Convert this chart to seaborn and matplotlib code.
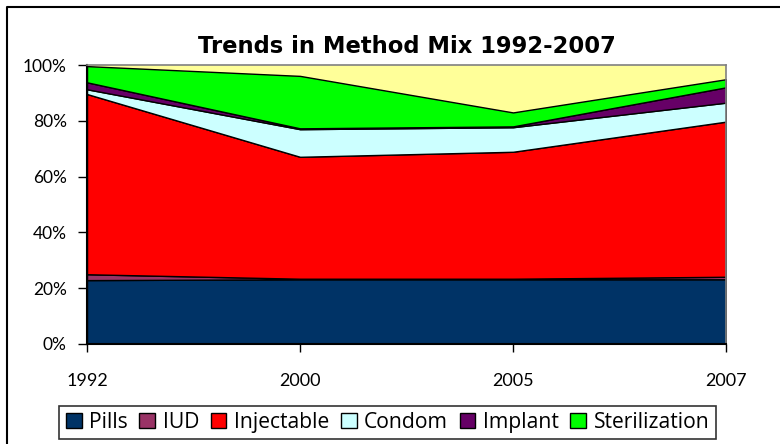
import numpy as np
import pandas as pd
import matplotlib
matplotlib.use("Agg")
import matplotlib.pyplot as plt
import seaborn as sns
from matplotlib.lines import Line2D
from matplotlib.patches import Patch

years = ["1992", "2000", "2005", "2007"]
methods = ["Pills", "IUD", "Injectable", "Condom", "Implant", "Sterilization"]
pills = [22.9, 23.2, 23.2, 23.2]
iud = [2.1, 0.2, 0.2, 0.9]
injectable = [64.6, 43.7, 45.5, 55.6]
condom = [1.7, 9.9, 8.8, 6.8]
implant = [2.5, 0.3, 0.3, 5.5]
sterilization = [5.8, 18.8, 5.0, 2.9]
yticks = [0, 20, 40, 60, 80, 100]
colors = ["#003366", "#993366", "#FF0000", "#CCFFFF", "#660066", "#00FF00"]

df = pd.DataFrame({"Year": years, "Pills": pills, "IUD": iud, "Injectable": injectable,
                   "Condom": condom, "Implant": implant, "Sterilization": sterilization})

sns.set_style("white")
plt.rcParams["font.family"] = ["Lato", "DejaVu Sans"]
plt.rcParams["text.color"] = "black"
plt.rcParams["xtick.color"] = "black"
plt.rcParams["ytick.color"] = "black"
plt.rcParams["axes.labelcolor"] = "black"

fig = plt.figure(figsize=(7.8, 4.44), dpi=100)
ax = fig.add_axes([87 / 780, 1 - 344 / 444, (726 - 87) / 780, (344 - 65) / 444])
ax.set_facecolor("#FFFF99")

x = np.arange(len(years))
ax.stackplot(x, *[df[m].values for m in methods], colors=colors,
             edgecolor="black", linewidth=1.0, labels=methods)

ax.set_xlim(0, len(years) - 1)
ax.set_ylim(0, 100)
ax.set_xticks(x)
ax.set_xticklabels(years)
ax.set_yticks(yticks)
ax.set_yticklabels([f"{v}%" for v in yticks])
ax.tick_params(axis="x", direction="out", length=6, width=1, colors="black",
               pad=15, labelsize=13, bottom=True)
ax.tick_params(axis="y", direction="out", length=6.5, width=1, colors="black",
               pad=8, labelsize=12.5, left=True)
for s in ["left", "bottom"]:
    ax.spines[s].set_color("black")
    ax.spines[s].set_linewidth(1.5)
for s in ["top", "right"]:
    ax.spines[s].set_color("#808080")
    ax.spines[s].set_linewidth(1.2)
ax.grid(False)

ax.set_title("Trends in Method Mix 1992-2007", fontsize=16.3, fontweight="bold",
             family=["DejaVu Sans"], color="black", pad=9)

handles = [Patch(facecolor=c, edgecolor="black", linewidth=1.0) for c in colors]
leg = fig.legend(handles, methods, loc="center", bbox_to_anchor=(387.5 / 780, 1 - 422.5 / 444),
                 ncol=6, frameon=True, fancybox=False,
                 prop={"family": ["Open Sans", "DejaVu Sans"], "size": 15.2},
                 handlelength=0.75, handleheight=0.75, handletextpad=0.35,
                 columnspacing=0.55, borderpad=0.3, edgecolor="black")
leg.get_frame().set_linewidth(1.2)
for t in leg.get_texts():
    t.set_color("black")

fig.add_artist(Line2D([7 / 780, 7 / 780, 1.0], [0, 1 - 7 / 444, 1 - 7 / 444],
                      transform=fig.transFigure, color="black", linewidth=1.5))

fig.savefig("out.png", dpi=100)
